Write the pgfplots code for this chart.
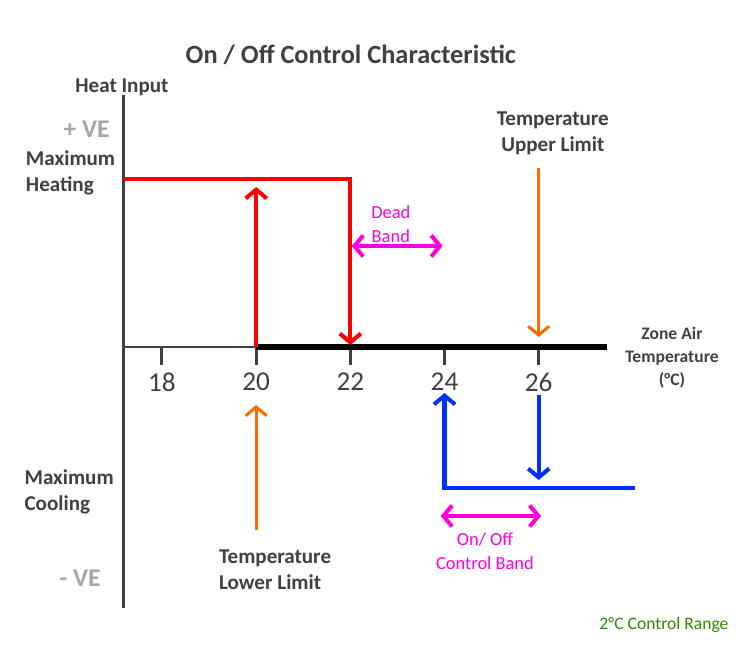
\documentclass[border=0pt]{standalone}
\usepackage{fontspec}
\setmainfont{Carlito}
\usepackage{pgfplots}
\pgfplotsset{compat=1.18}
\usetikzlibrary{arrows.meta}
\definecolor{axisgray}{HTML}{404040}
\definecolor{vegray}{HTML}{A6A6A6}
\definecolor{hotred}{HTML}{FF0000}
\definecolor{coolblue}{HTML}{0030FF}
\definecolor{limorange}{HTML}{FF6A00}
\definecolor{bandpink}{HTML}{FF00DD}
\definecolor{rangegreen}{HTML}{2E8B00}

\tikzset{
  head/.style={-{Straight Barb[length=5pt,width=12pt]}},
  bothheads/.style={{Straight Barb[length=5pt,width=12pt]}-{Straight Barb[length=5pt,width=12pt]}},
  lbl/.style={font=\fontsize{12}{15}\selectfont\bfseries, text=axisgray, align=left},
  ve/.style={font=\fontsize{14.5}{17}\selectfont\bfseries, text=vegray, anchor=east},
}

\begin{document}
\begin{tikzpicture}
\begin{axis}[
    scale only axis,
    width=15.04cm, height=12.92cm,
    xmin=14.56, xmax=30.53,
    ymin=-2.99, ymax=3.47,
    axis x line=middle, axis y line=none,
    x axis line style={draw=none},
    xtick={18,20,22,24,26},
    ytick=\empty,
    tick align=outside,
    major tick length=0.36cm,
    x tick style={draw=axisgray, line width=1.7pt},
    xticklabel style={font=\fontsize{15.5}{18}\selectfont, text=axisgray, yshift=-1pt},
    /pgf/number format/assume math mode=true,
    clip=false,
]
% page extent
\addplot[draw=none] coordinates {(14.56,-2.99) (30.53,3.47)};

% axes
\addplot[axisgray, line width=1.7pt] coordinates {(17.19,2.52) (17.19,-2.61)};
\addplot[axisgray, line width=1.7pt] coordinates {(17.19,0) (20,0)};
\addplot[black, line width=3.4pt] coordinates {(20,0) (27.45,0)};

% heating
\addplot[hotred, line width=2.3pt, head] coordinates {(17.19,1.68) (22,1.68) (22,0.02)};
\addplot[hotred, line width=2.3pt, head] coordinates {(20,0) (20,1.60)};

% cooling
\addplot[coolblue, line width=2.3pt, {Straight Barb[length=5pt,width=12pt]}-] coordinates {(24,-0.46) (24,-1.41) (28.04,-1.41)};
\addplot[coolblue, line width=2.3pt, head] coordinates {(26,-0.48) (26,-1.33)};

% limits
\addplot[limorange, line width=1.7pt, head] coordinates {(26,1.79) (26,0.10)};
\addplot[limorange, line width=1.7pt, head] coordinates {(20,-1.83) (20,-0.58)};

% bands
\addplot[bandpink, line width=2.3pt, bothheads] coordinates {(22.03,1.01) (23.96,1.01)};
\addplot[bandpink, line width=2.3pt, bothheads] coordinates {(23.92,-1.69) (26.05,-1.69)};

% text
\node[font=\fontsize{15}{18}\selectfont\bfseries, text=axisgray] at (axis cs:22.01,2.92) {On / Off Control Characteristic};
\node[lbl] at (axis cs:17.15,2.60) {Heat Input};
\node[ve] at (axis cs:17.02,2.18) {+ VE};
\node[ve] at (axis cs:16.83,-2.31) {- VE};
\node[lbl, anchor=west] at (axis cs:14.98,1.74) {Maximum\\Heating};
\node[lbl, anchor=west] at (axis cs:14.95,-1.45) {Maximum\\Cooling};
\node[lbl, align=center] at (axis cs:26.3,2.135) {Temperature\\Upper Limit};
\node[lbl, anchor=west] at (axis cs:19.08,-2.225) {Temperature\\Lower Limit};
\node[font=\fontsize{10}{13}\selectfont\bfseries, text=axisgray, align=center] at (axis cs:28.83,-0.11) {Zone Air\\Temperature\\(°C)};
\node[font=\fontsize{10.5}{13.5}\selectfont, text=bandpink, align=center] at (axis cs:22.86,1.23) {Dead\\Band};
\node[font=\fontsize{10.5}{13.5}\selectfont, text=bandpink, align=center] at (axis cs:24.86,-2.04) {On/ Off\\Control Band};
\node[font=\fontsize{10}{12}\selectfont, text=rangegreen] at (axis cs:28.66,-2.78) {2°C Control Range};
\end{axis}
\end{tikzpicture}
\end{document}
